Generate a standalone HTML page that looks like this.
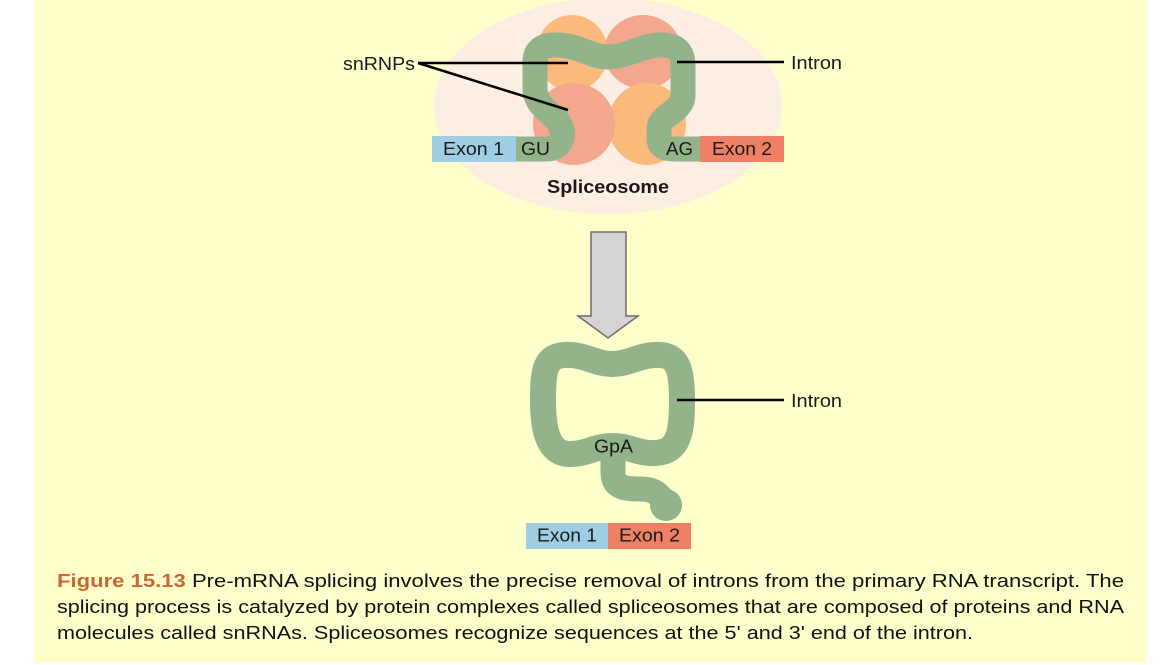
<!DOCTYPE html>
<html>
<head>
<meta charset="utf-8">
<style>
  html, body { margin: 0; padding: 0; background: #ffffff; }
  body { width: 1161px; height: 665px; overflow: hidden; position: relative; }
  svg { position: absolute; left: 0; top: 0; }
  text { font-family: "Liberation Sans", Arial, sans-serif; }
</style>
</head>
<body>
<svg width="1161" height="665" viewBox="0 0 1161 665" xmlns="http://www.w3.org/2000/svg">
  <!-- yellow panel -->
  <rect x="34" y="0" width="1113" height="663" fill="#FFFFCC"/>

  <!-- spliceosome ellipse -->
  <ellipse cx="608" cy="106" rx="174" ry="108" fill="#FCEEE2"/>

  <!-- blobs -->
  <ellipse cx="572" cy="53" rx="36" ry="38" fill="#FBBA7C"/>
  <ellipse cx="643" cy="52" rx="39" ry="37" fill="#F4A78F"/>
  <ellipse cx="647" cy="124" rx="39" ry="41" fill="#FBBA7C"/>
  <ellipse cx="574" cy="124" rx="41" ry="41" fill="#F4A78F"/>

  <!-- exon boxes top -->
  <rect x="432" y="136" width="84" height="26" fill="#9FCDE3"/>
  <rect x="700" y="136" width="84" height="26" fill="#EE8066"/>

  <!-- intron (top) -->
  <path d="M 516,149 L 546,149 C 566,149 566,128 555,118 C 541,106 535,100 535,88 L 535,62 Q 535,45 555,45 C 580,45 590,57 608,57 C 628,57 640,45 662,45 Q 683,45 683,65 L 683,95 C 683,112 660,114 659,128 L 659,138 C 659,147 665,149 675,149 L 700,149"
        fill="none" stroke="#93B48B" stroke-width="25" stroke-linejoin="round"/>
  <rect x="516" y="136.5" width="20" height="25" fill="#93B48B"/>
  <rect x="680" y="136.5" width="20" height="25" fill="#93B48B"/>

  <!-- top labels -->
  <text x="443" y="155" font-size="18" fill="#1a1a1a" textLength="61" lengthAdjust="spacingAndGlyphs">Exon 1</text>
  <text x="521" y="155" font-size="18" fill="#1a1a1a" textLength="29" lengthAdjust="spacingAndGlyphs">GU</text>
  <text x="666" y="155" font-size="18" fill="#1a1a1a" textLength="27" lengthAdjust="spacingAndGlyphs">AG</text>
  <text x="712" y="155" font-size="18" fill="#1a1a1a" textLength="60" lengthAdjust="spacingAndGlyphs">Exon 2</text>
  <text x="547" y="193" font-size="18" font-weight="bold" fill="#1a1a1a" textLength="122" lengthAdjust="spacingAndGlyphs">Spliceosome</text>

  <!-- leader lines top -->
  <line x1="418" y1="63" x2="568" y2="63" stroke="#000" stroke-width="2.5"/>
  <line x1="418" y1="63" x2="568" y2="110" stroke="#000" stroke-width="2.5"/>
  <line x1="677" y1="62" x2="784" y2="62" stroke="#000" stroke-width="2.5"/>
  <text x="343" y="70" font-size="18" fill="#1a1a1a" textLength="72" lengthAdjust="spacingAndGlyphs">snRNPs</text>
  <text x="791" y="69" font-size="18" fill="#1a1a1a" textLength="51" lengthAdjust="spacingAndGlyphs">Intron</text>

  <!-- arrow -->
  <polygon points="591,232 626,232 626,316 638,316 608,338 578,316 591,316" fill="#D4D4D4" stroke="#6b6b6b" stroke-width="1.5" stroke-linejoin="miter"/>

  <!-- lariat -->
  <path d="M 543,400 C 543,370 545,356 565,355 C 585,354 595,364 612,364 C 630,364 640,354 660,355 C 678,356 682,370 682,400 C 682,430 680,452 655,453 C 638,454 630,446 612,446 C 595,446 588,454 570,454 C 548,454 543,430 543,400 Z"
        fill="none" stroke="#93B48B" stroke-width="26" stroke-linejoin="round"/>
  <path d="M 613,450 L 613,472 C 613,488 625,489 640,489 C 654,489 660,494 664,503"
        fill="none" stroke="#93B48B" stroke-width="25" stroke-linecap="round"/>
  <circle cx="666" cy="505" r="16" fill="#93B48B"/>
  <text x="594" y="452.5" font-size="18" fill="#1a1a1a" textLength="39" lengthAdjust="spacingAndGlyphs">GpA</text>

  <line x1="677" y1="400" x2="784" y2="400" stroke="#000" stroke-width="2.5"/>
  <text x="791" y="407" font-size="18" fill="#1a1a1a" textLength="51" lengthAdjust="spacingAndGlyphs">Intron</text>

  <!-- bottom exons -->
  <rect x="526" y="523" width="82" height="26" fill="#9FCDE3"/>
  <rect x="608" y="523" width="83" height="26" fill="#EE8066"/>
  <text x="537" y="541.5" font-size="18" fill="#1a1a1a" textLength="60" lengthAdjust="spacingAndGlyphs">Exon 1</text>
  <text x="619" y="541.5" font-size="18" fill="#1a1a1a" textLength="61" lengthAdjust="spacingAndGlyphs">Exon 2</text>

  <!-- caption -->
  <text x="57" y="587" font-size="18.5" fill="#111" textLength="1067" lengthAdjust="spacingAndGlyphs"><tspan font-weight="bold" fill="#CC6633">Figure 15.13</tspan> Pre-mRNA splicing involves the precise removal of introns from the primary RNA transcript. The</text>
  <text x="57" y="613" font-size="18.5" fill="#111" textLength="1067" lengthAdjust="spacingAndGlyphs">splicing process is catalyzed by protein complexes called spliceosomes that are composed of proteins and RNA</text>
  <text x="57" y="639" font-size="18.5" fill="#111" textLength="916" lengthAdjust="spacingAndGlyphs">molecules called snRNAs. Spliceosomes recognize sequences at the 5' and 3' end of the intron.</text>
</svg>
</body>
</html>
